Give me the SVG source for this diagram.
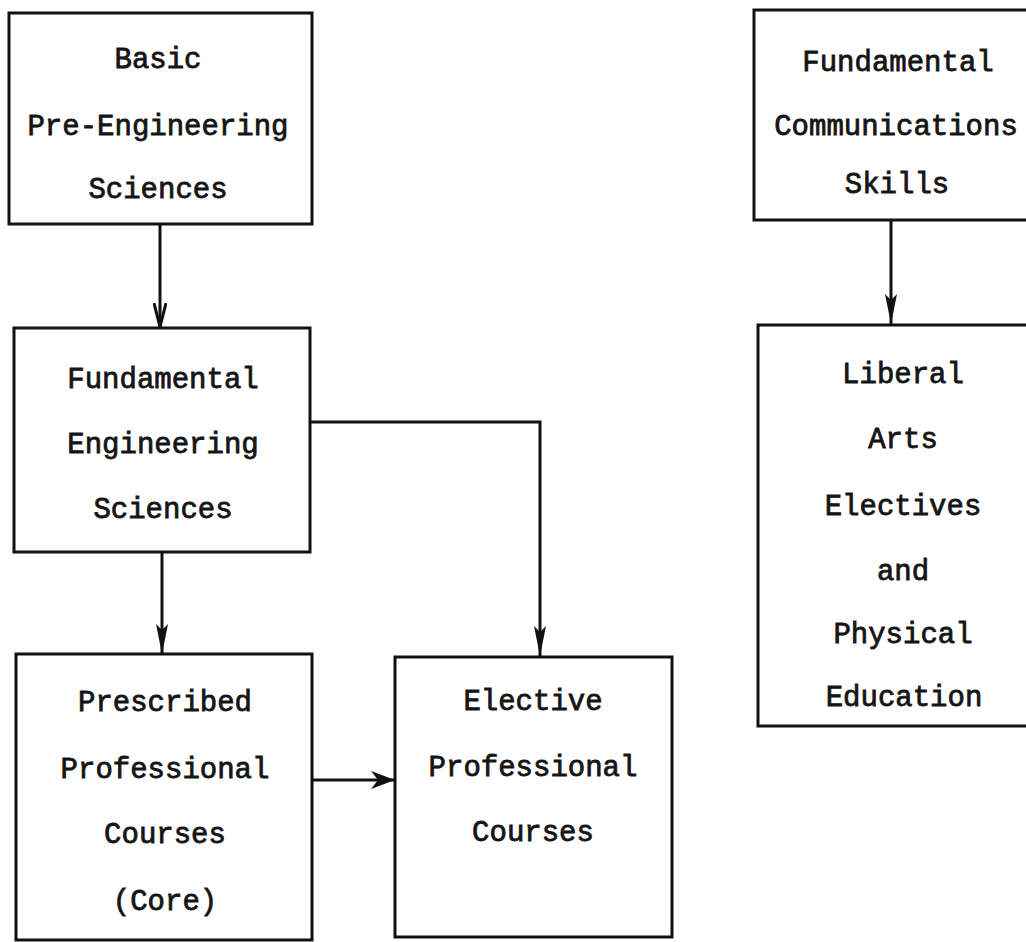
<svg xmlns="http://www.w3.org/2000/svg" width="1026" height="942" viewBox="0 0 1026 942">
<style>
.box{fill:none;stroke:#111;stroke-width:3}
.t{font-family:"Liberation Mono","DejaVu Sans Mono",monospace;font-size:29px;fill:#151515;text-anchor:middle;dominant-baseline:central;stroke:#151515;stroke-width:0.8}
.c{fill:none;stroke:#111;stroke-width:3}
</style>
<defs>
<marker id="open" markerUnits="userSpaceOnUse" viewBox="0 0 28 14" refX="26" refY="7" markerWidth="28" markerHeight="14" orient="auto">
<path d="M2,1 L26,7 L2,13" fill="none" stroke="#111" stroke-width="3"/>
</marker>
<marker id="head" markerUnits="userSpaceOnUse" viewBox="0 0 30 12" refX="30" refY="6" markerWidth="30" markerHeight="12" orient="auto">
<path d="M0,0 L30,6 L0,12 L6,6 z" fill="#111"/>
</marker>
<marker id="wide" markerUnits="userSpaceOnUse" viewBox="0 0 24 18" refX="24" refY="9" markerWidth="24" markerHeight="18" orient="auto">
<path d="M0,0 L24,9 L0,18 L7,9 z" fill="#111"/>
</marker>
</defs>
<rect width="1026" height="942" fill="#fff"/>
<g id="connectors">
<path class="c" d="M160,224 V327" marker-end="url(#open)"/>
<path class="c" d="M162,552 V654" marker-end="url(#head)"/>
<path class="c" d="M310,422 H540 V656" stroke-width="3.5" marker-end="url(#head)"/>
<path class="c" d="M312,780 H395" marker-end="url(#wide)"/>
<path class="c" d="M891,220 V324" stroke-width="4" marker-end="url(#head)"/>
</g>
<g id="basic-pre-engineering">
<rect class="box" x="9" y="13" width="303" height="211"/>
<text class="t" x="158" y="60">Basic</text>
<text class="t" x="158" y="127">Pre-Engineering</text>
<text class="t" x="158" y="190">Sciences</text>
</g>
<g id="fundamental-communications">
<rect class="box" x="754" y="10" width="290" height="210"/>
<text class="t" x="898" y="63">Fundamental</text>
<text class="t" x="896" y="127">Communications</text>
<text class="t" x="897" y="185">Skills</text>
</g>
<g id="fundamental-engineering">
<rect class="box" x="14" y="328" width="296" height="224"/>
<text class="t" x="163" y="380">Fundamental</text>
<text class="t" x="163" y="445">Engineering</text>
<text class="t" x="163" y="510">Sciences</text>
</g>
<g id="liberal-arts">
<rect class="box" x="758" y="325" width="290" height="401"/>
<text class="t" x="903" y="375">Liberal</text>
<text class="t" x="903" y="440">Arts</text>
<text class="t" x="903" y="507">Electives</text>
<text class="t" x="903" y="572">and</text>
<text class="t" x="903" y="635">Physical</text>
<text class="t" x="904" y="698">Education</text>
</g>
<g id="prescribed-professional">
<rect class="box" x="16" y="654" width="296" height="286"/>
<text class="t" x="165" y="703">Prescribed</text>
<text class="t" x="165" y="770">Professional</text>
<text class="t" x="165" y="835">Courses</text>
<text class="t" x="165" y="902">(Core)</text>
</g>
<g id="elective-professional">
<rect class="box" x="395" y="657" width="277" height="280"/>
<text class="t" x="533" y="702">Elective</text>
<text class="t" x="533" y="768">Professional</text>
<text class="t" x="533" y="833">Courses</text>
</g>
</svg>
